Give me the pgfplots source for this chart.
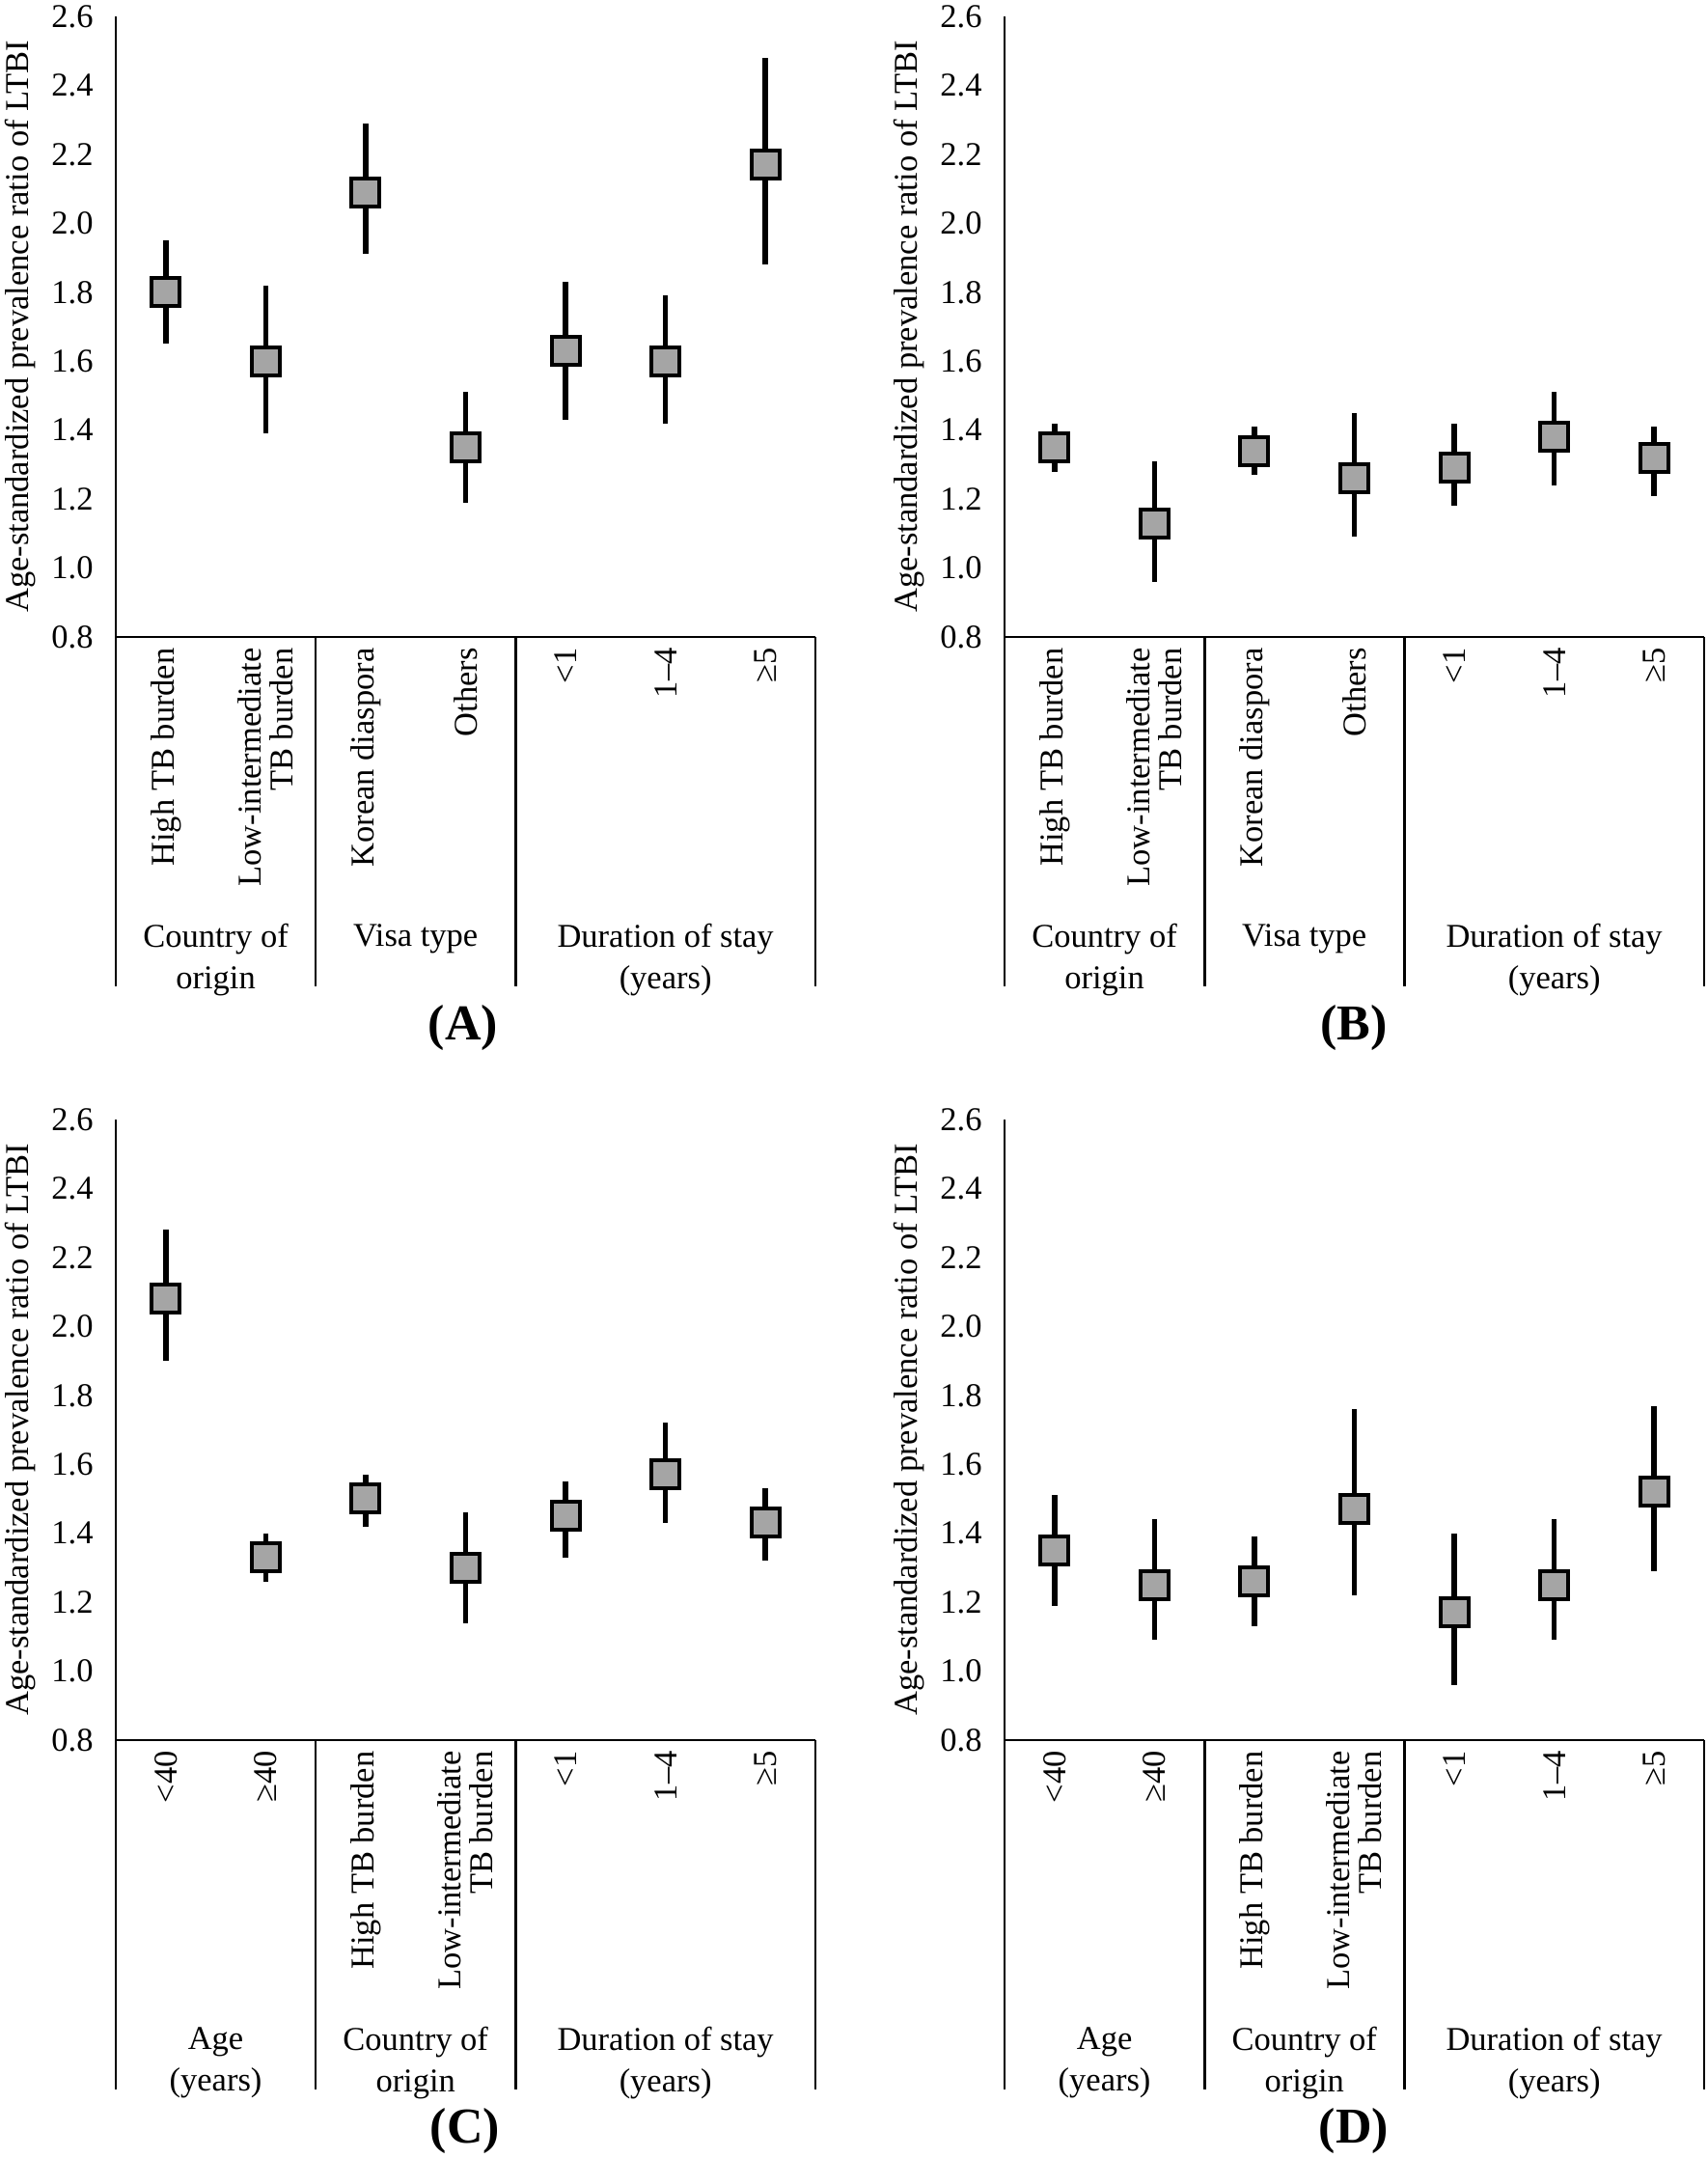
\documentclass[border=0pt]{standalone}
\usepackage{fontspec}
\setmainfont{Liberation Serif}
\usepackage{pgfplots}
\usepackage{pgfplotstable}
\pgfplotsset{compat=1.18}
\definecolor{markgray}{HTML}{A5A5A5}
\newcommand{\tfont}{\fontsize{17.25bp}{21.5bp}\selectfont}
\newcommand{\xfont}{\fontsize{17.25bp}{16.5bp}\selectfont}

\pgfplotstableread{
x y lo hi
0 1.80 1.65 1.95
1 1.60 1.39 1.82
2 2.09 1.91 2.29
3 1.35 1.19 1.51
4 1.63 1.43 1.83
5 1.60 1.42 1.79
6 2.17 1.88 2.48
}\dataA
\pgfplotstableread{
x y lo hi
0 1.35 1.28 1.42
1 1.13 0.96 1.31
2 1.34 1.27 1.41
3 1.26 1.09 1.45
4 1.29 1.18 1.42
5 1.38 1.24 1.51
6 1.32 1.21 1.41
}\dataB
\pgfplotstableread{
x y lo hi
0 2.08 1.90 2.28
1 1.33 1.26 1.40
2 1.50 1.42 1.57
3 1.30 1.14 1.46
4 1.45 1.33 1.55
5 1.57 1.43 1.72
6 1.43 1.32 1.53
}\dataC
\pgfplotstableread{
x y lo hi
0 1.35 1.19 1.51
1 1.25 1.09 1.44
2 1.26 1.13 1.39
3 1.47 1.22 1.76
4 1.17 0.96 1.40
5 1.25 1.09 1.44
6 1.52 1.29 1.77
}\dataD

\pgfplotsset{
  panel/.style={
    scale only axis, width=362.5bp, height=321.5bp,
    anchor=south west, clip=false,
    xmin=-0.5, xmax=6.5, ymin=0.8, ymax=2.6,
    axis x line=bottom, axis y line=left,
    axis line style={line width=1.35bp, -, black},
    xtick={0,1,2,3,4,5,6},
    ytick={0.8,1.0,1.2,1.4,1.6,1.8,2.0,2.2,2.4,2.6},
    major tick length=0pt,
    /pgf/number format/assume math mode=true,
    /pgf/number format/fixed,
    /pgf/number format/fixed zerofill,
    /pgf/number format/precision=1,
    yticklabel style={font=\tfont, inner sep=0pt, xshift=-11.5bp},
    xticklabel style={font=\xfont, rotate=90, anchor=east, align=right, inner sep=0pt},
    xticklabel shift=5.5bp,
  },
  ci/.style={
    only marks, mark=square*, mark size=7.25bp,
    mark options={draw=black, fill=markgray, line width=2bp, solid},
    error bars/.cd, y dir=both, y explicit, error mark=none,
    error bar style={line width=2.8bp, black},
  },
}
\newcommand{\ciplot}[1]{\addplot[ci] table[x=x, y=y,
  y error plus expr=\thisrow{hi}-\thisrow{y},
  y error minus expr=\thisrow{y}-\thisrow{lo}] {#1};}
\newcommand{\ylab}{\node[rotate=90, font=\tfont] at ([xshift=-49.5bp]rel axis cs:0,0.5) {Age-standardized prevalence ratio of LTBI};}
\newcommand{\seps}{%
  \draw[line width=1.35bp] (axis cs:-0.5,0.8) -- ([yshift=-181bp]axis cs:-0.5,0.8);
  \draw[line width=1.35bp] (axis cs:1.5,0.8) -- ([yshift=-181bp]axis cs:1.5,0.8);
  \draw[line width=1.35bp] (axis cs:3.5,0.8) -- ([yshift=-181bp]axis cs:3.5,0.8);
  \draw[line width=1.35bp] (axis cs:6.5,0.8) -- ([yshift=-181bp]axis cs:6.5,0.8);}

\begin{document}
\begin{tikzpicture}
\useasboundingbox (0,0) rectangle (885bp,-1118bp);

% (A)
\begin{axis}[panel, at={(60bp,-330bp)},
  xticklabels={High TB burden, {Low-intermediate\\TB burden}, Korean diaspora, Others, <1, 1–4, ≥5}]
\ciplot{\dataA}
\ylab
\seps
\node[anchor=north, align=center, font=\tfont, inner sep=0pt] at ([yshift=-148.5bp]axis cs:0.5,0.8) {Country of\\origin};
\node[anchor=north, align=center, font=\tfont, inner sep=0pt] at ([yshift=-148.5bp]axis cs:2.5,0.8) {Visa type};
\node[anchor=north, align=center, font=\tfont, inner sep=0pt] at ([yshift=-148.5bp]axis cs:5,0.8) {Duration of stay\\(years)};
\end{axis}

% (B)
\begin{axis}[panel, at={(520.5bp,-330bp)},
  xticklabels={High TB burden, {Low-intermediate\\TB burden}, Korean diaspora, Others, <1, 1–4, ≥5}]
\ciplot{\dataB}
\ylab
\seps
\node[anchor=north, align=center, font=\tfont, inner sep=0pt] at ([yshift=-148.5bp]axis cs:0.5,0.8) {Country of\\origin};
\node[anchor=north, align=center, font=\tfont, inner sep=0pt] at ([yshift=-148.5bp]axis cs:2.5,0.8) {Visa type};
\node[anchor=north, align=center, font=\tfont, inner sep=0pt] at ([yshift=-148.5bp]axis cs:5,0.8) {Duration of stay\\(years)};
\end{axis}

% (C)
\begin{axis}[panel, at={(60bp,-901.5bp)},
  xticklabels={<40, ≥40, High TB burden, {Low-intermediate\\TB burden}, <1, 1–4, ≥5}]
\ciplot{\dataC}
\ylab
\seps
\node[anchor=north, align=center, font=\tfont, inner sep=0pt] at ([yshift=-148.5bp]axis cs:0.5,0.8) {Age\\(years)};
\node[anchor=north, align=center, font=\tfont, inner sep=0pt] at ([yshift=-148.5bp]axis cs:2.5,0.8) {Country of\\origin};
\node[anchor=north, align=center, font=\tfont, inner sep=0pt] at ([yshift=-148.5bp]axis cs:5,0.8) {Duration of stay\\(years)};
\end{axis}

% (D)
\begin{axis}[panel, at={(520.5bp,-901.5bp)},
  xticklabels={<40, ≥40, High TB burden, {Low-intermediate\\TB burden}, <1, 1–4, ≥5}]
\ciplot{\dataD}
\ylab
\seps
\node[anchor=north, align=center, font=\tfont, inner sep=0pt] at ([yshift=-148.5bp]axis cs:0.5,0.8) {Age\\(years)};
\node[anchor=north, align=center, font=\tfont, inner sep=0pt] at ([yshift=-148.5bp]axis cs:2.5,0.8) {Country of\\origin};
\node[anchor=north, align=center, font=\tfont, inner sep=0pt] at ([yshift=-148.5bp]axis cs:5,0.8) {Duration of stay\\(years)};
\end{axis}

\node[font=\fontsize{26bp}{30bp}\selectfont\bfseries] at (240bp,-532.5bp) {(A)};
\node[font=\fontsize{26bp}{30bp}\selectfont\bfseries] at (701.5bp,-532.5bp) {(B)};
\node[font=\fontsize{26bp}{30bp}\selectfont\bfseries] at (241bp,-1104bp) {(C)};
\node[font=\fontsize{26bp}{30bp}\selectfont\bfseries] at (701.5bp,-1104bp) {(D)};
\end{tikzpicture}
\end{document}
